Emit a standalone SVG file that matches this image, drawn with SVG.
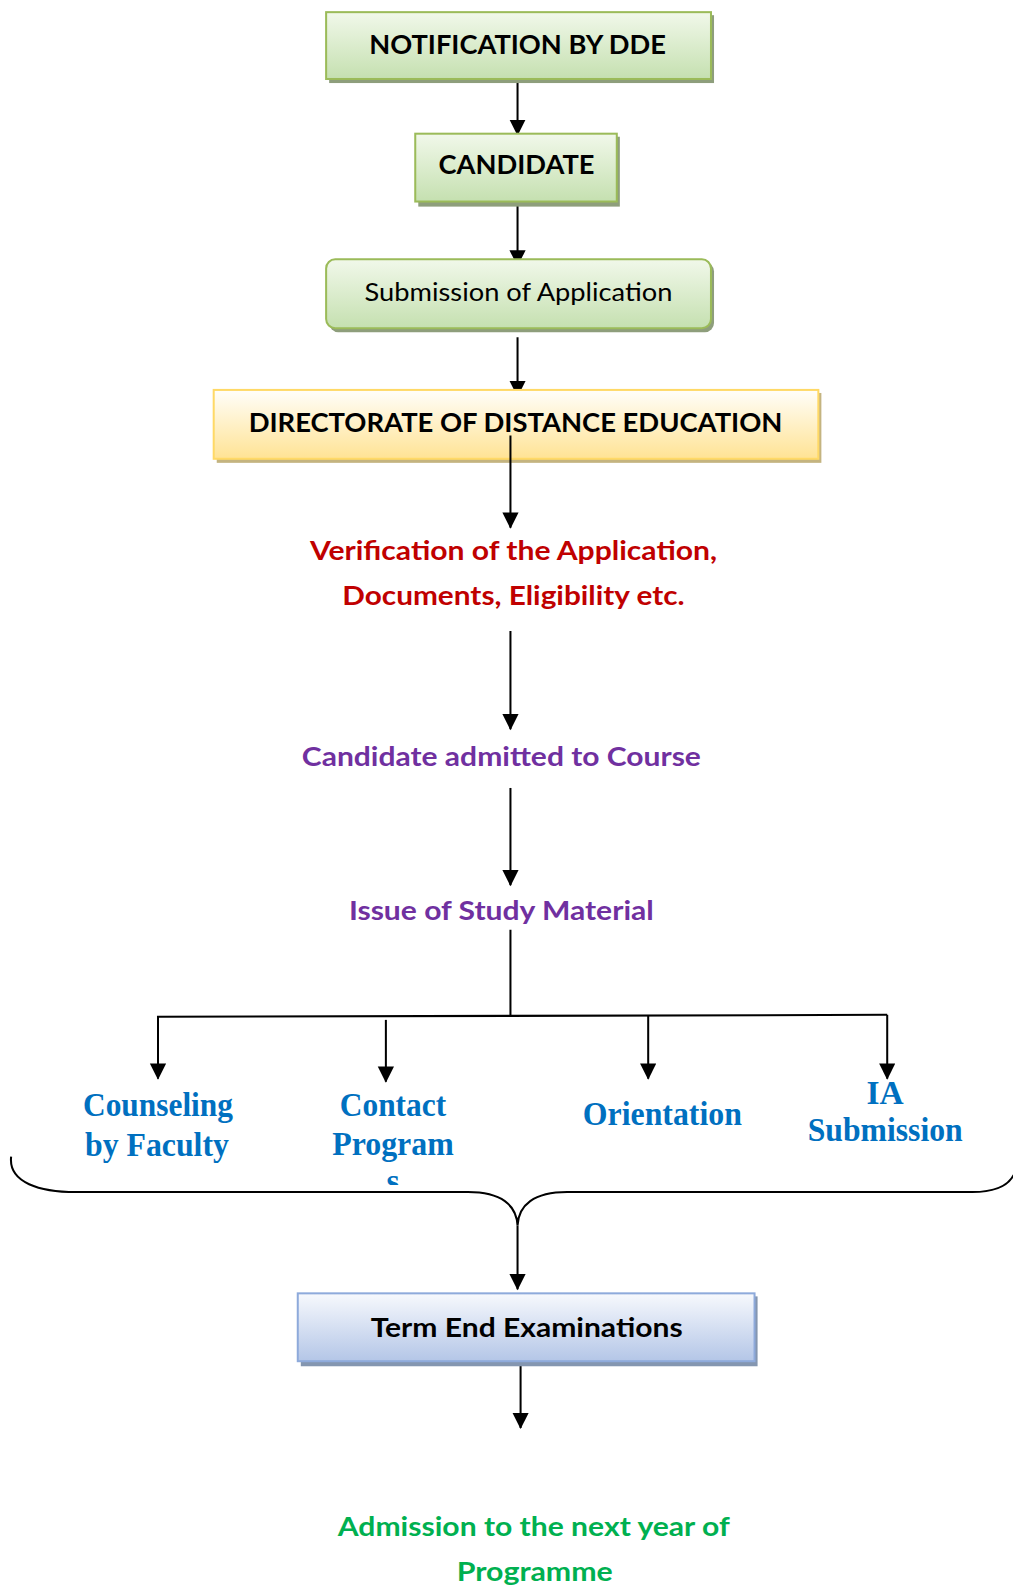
<svg xmlns="http://www.w3.org/2000/svg" width="1013" height="1585" viewBox="0 0 1013 1585">
<defs>
<linearGradient id="gGreen" x1="0" y1="0" x2="0" y2="1"><stop offset="0" stop-color="#f1f8ea"/><stop offset="1" stop-color="#c5e0b0"/></linearGradient>
<linearGradient id="gYellow" x1="0" y1="0" x2="0" y2="1"><stop offset="0" stop-color="#fffefa"/><stop offset="1" stop-color="#ffe394"/></linearGradient>
<linearGradient id="gBlue" x1="0" y1="0" x2="0" y2="1"><stop offset="0" stop-color="#f7f9fd"/><stop offset="1" stop-color="#b4c6e7"/></linearGradient>
<marker id="arr" markerUnits="userSpaceOnUse" markerWidth="18" markerHeight="18" refX="15" refY="8" orient="auto"><path d="M0,0 L16,8 L0,16 Z" fill="#000"/></marker>
<clipPath id="clipS"><rect x="300" y="1140" width="200" height="30"/></clipPath>
</defs>
<style>
.cal{font-family:Lato,"Noto Sans","Liberation Sans",sans-serif;font-weight:bold;text-anchor:middle}
.calr{font-family:Lato,"Noto Sans","Liberation Sans",sans-serif;font-weight:normal;text-anchor:middle}
.tms{font-family:"Liberation Serif","DejaVu Serif",serif;font-weight:bold;fill:#0070c0;text-anchor:middle;font-size:33px}
.con{stroke:#000;stroke-width:2;fill:none}
.gbox{fill:url(#gGreen);stroke:#9bbb59;stroke-width:2}
.gsh{fill:#8e9e7c}
</style>
<g transform="scale(1.0128)">
<g id="connectors">
<line class="con" x1="511" y1="80" x2="511" y2="133" marker-end="url(#arr)"/>
<line class="con" x1="511" y1="203" x2="511" y2="262" marker-end="url(#arr)"/>
<line class="con" x1="511" y1="333" x2="511" y2="391" marker-end="url(#arr)"/>
<line class="con" x1="514" y1="1346" x2="514" y2="1410" marker-end="url(#arr)"/>
<line class="con" x1="504" y1="623" x2="504" y2="720" marker-end="url(#arr)"/>
<line class="con" x1="504" y1="778" x2="504" y2="874" marker-end="url(#arr)"/>
<line class="con" x1="504" y1="918" x2="504" y2="1003"/>
<line class="con" x1="155" y1="1004" x2="876" y2="1002"/>
<line class="con" x1="156" y1="1004" x2="156" y2="1065" marker-end="url(#arr)"/>
<line class="con" x1="381" y1="1007" x2="381" y2="1068" marker-end="url(#arr)"/>
<line class="con" x1="640" y1="1003" x2="640" y2="1065" marker-end="url(#arr)"/>
<line class="con" x1="876" y1="1002" x2="876" y2="1065" marker-end="url(#arr)"/>
<path class="con" d="M11,1142 C8,1168 40,1177 75,1177 L462,1177 C495,1177 510,1190 511,1210 C512,1190 527,1177 560,1177 L960,1177 C990,1177 1000,1165 1003,1155"/>
<line class="con" x1="511" y1="1210" x2="511" y2="1273" marker-end="url(#arr)"/>
</g>

<g id="n1">
<rect x="325" y="15" width="380" height="67" class="gsh"/>
<rect x="322" y="12" width="380" height="66" class="gbox"/>
<text class="cal" x="511" y="53" font-size="26" textLength="293" lengthAdjust="spacingAndGlyphs">NOTIFICATION BY DDE</text>
</g>
<g id="n2">
<rect x="413" y="135" width="199" height="69" class="gsh"/>
<rect x="410" y="132" width="199" height="67" class="gbox"/>
<text class="cal" x="510" y="172" font-size="26" textLength="154" lengthAdjust="spacingAndGlyphs">CANDIDATE</text>
</g>
<g id="n3">
<rect x="325" y="259" width="380" height="69" rx="9" class="gsh"/>
<rect x="322" y="256" width="380" height="68" rx="9" class="gbox"/>
<text class="calr" x="512" y="297" font-size="25" fill="#000" textLength="304" lengthAdjust="spacingAndGlyphs">Submission of Application</text>
</g>
<g id="n4">
<rect x="214" y="388" width="597" height="69" fill="#c4b480"/>
<rect x="211" y="385" width="597" height="68" fill="url(#gYellow)" stroke="#ffd966" stroke-width="2"/>
<text class="cal" x="509" y="427" font-size="27" textLength="527" lengthAdjust="spacingAndGlyphs">DIRECTORATE OF DISTANCE EDUCATION</text>
<line class="con" x1="504" y1="430" x2="504" y2="521" marker-end="url(#arr)"/>
</g>
<g id="n5">
<text class="cal" x="507" y="553" font-size="26" fill="#c00000" textLength="402" lengthAdjust="spacingAndGlyphs">Verification of the Application,</text>
<text class="cal" x="507" y="597" font-size="26" fill="#c00000" textLength="338" lengthAdjust="spacingAndGlyphs">Documents, Eligibility etc.</text>
</g>
<g id="n6">
<text class="cal" x="495" y="756" font-size="26" fill="#7030a0" textLength="394" lengthAdjust="spacingAndGlyphs">Candidate admitted to Course</text>
</g>
<g id="n7">
<text class="cal" x="495" y="908" font-size="26" fill="#7030a0" textLength="301" lengthAdjust="spacingAndGlyphs">Issue of Study Material</text>
</g>
<g id="n8">
<text class="tms" x="156" y="1102" textLength="148" lengthAdjust="spacingAndGlyphs">Counseling</text>
<text class="tms" x="155" y="1141" textLength="142" lengthAdjust="spacingAndGlyphs">by Faculty</text>
</g>
<g id="n9">
<text class="tms" x="388" y="1102" textLength="105" lengthAdjust="spacingAndGlyphs">Contact</text>
<text class="tms" x="388" y="1140" textLength="120" lengthAdjust="spacingAndGlyphs">Program</text>
<text class="tms" x="388" y="1177" clip-path="url(#clipS)">s</text>
</g>
<g id="n10">
<text class="tms" x="654" y="1111" textLength="157" lengthAdjust="spacingAndGlyphs">Orientation</text>
</g>
<g id="n11">
<text class="tms" x="874" y="1090">IA</text>
<text class="tms" x="874" y="1127" textLength="153" lengthAdjust="spacingAndGlyphs">Submission</text>
</g>
<g id="n12">
<rect x="297" y="1280" width="451" height="69" fill="#8496b0"/>
<rect x="294" y="1277" width="451" height="67" fill="url(#gBlue)" stroke="#8eaadb" stroke-width="2"/>
<text class="cal" x="520" y="1320" font-size="26" fill="#000" textLength="308" lengthAdjust="spacingAndGlyphs">Term End Examinations</text>
</g>
<g id="n13">
<text class="cal" x="527" y="1517" font-size="26" fill="#00b050" textLength="387" lengthAdjust="spacingAndGlyphs">Admission to the next year of</text>
<text class="cal" x="528" y="1561" font-size="26" fill="#00b050" textLength="154" lengthAdjust="spacingAndGlyphs">Programme</text>
</g>
</g>
</svg>
